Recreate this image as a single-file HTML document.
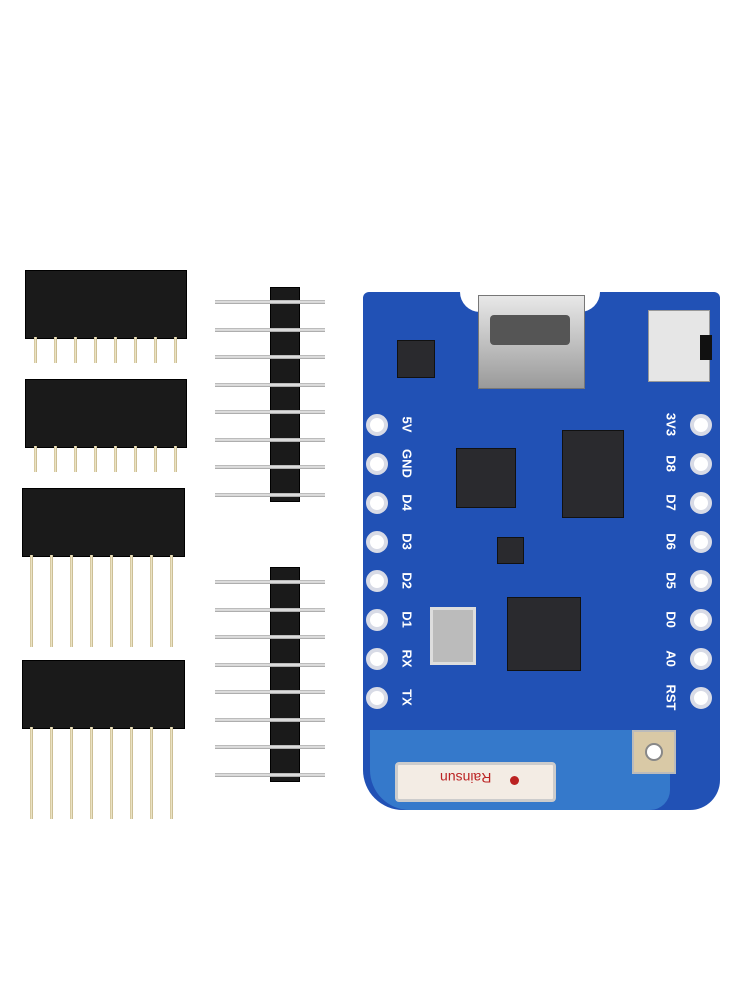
<!DOCTYPE html>
<html><head><meta charset="utf-8"><style>
body{margin:0;width:750px;height:1000px;background:#fff;position:relative;overflow:hidden;font-family:"Liberation Sans",sans-serif}
.a{position:absolute}
.blk{background:#1a1a1a;border:1px solid #000}
.pin{background:linear-gradient(90deg,#c9b98a,#f3ecd0,#b8a878);width:3px}
.hp{background:linear-gradient(180deg,#aaa,#eee,#999);height:4px}
.hole{width:14px;height:14px;border-radius:50%;background:#fff;border:4px solid #d8dbe6;box-sizing:content-box}
.lbl{color:#fff;font-size:13px;font-weight:bold;transform:rotate(90deg);transform-origin:center}
.chip{background:#2a2a2e;border:1px solid #111}
.smd{background:#333}
</style></head><body>
<!-- female headers -->
<div class="a blk" style="left:25px;top:270px;width:160px;height:67px"></div>
<div class="a blk" style="left:25px;top:379px;width:160px;height:67px"></div>
<div class="a blk" style="left:22px;top:488px;width:161px;height:67px"></div>
<div class="a blk" style="left:22px;top:660px;width:161px;height:67px"></div>
<div id="fp"></div>
<!-- male headers -->
<div class="a blk" style="left:270px;top:287px;width:28px;height:213px"></div>
<div class="a blk" style="left:270px;top:567px;width:28px;height:213px"></div>
<!-- board -->
<div class="a" style="left:363px;top:292px;width:357px;height:518px;background:#2151b5;border-radius:6px 6px 30px 40px"></div>
<div class="a" style="left:370px;top:730px;width:300px;height:80px;background:#3f8ad4;border-radius:0 0 20px 40px;opacity:.7"></div>
<div class="a" style="left:460px;top:292px;width:140px;height:20px;background:#fff;border-radius:0 0 20px 20px"></div>
<div class="a" style="left:478px;top:295px;width:105px;height:92px;background:linear-gradient(#e8e8e8,#9a9a9a);border:1px solid #777"></div>
<div class="a" style="left:490px;top:315px;width:80px;height:30px;background:#555;border-radius:4px"></div>
<div class="a" style="left:648px;top:310px;width:60px;height:70px;background:#e6e6e6;border:1px solid #999"></div>
<div class="a" style="left:700px;top:335px;width:12px;height:25px;background:#111"></div>
<div class="a chip" style="left:456px;top:448px;width:58px;height:58px"></div>
<div class="a chip" style="left:562px;top:430px;width:60px;height:86px"></div>
<div class="a chip" style="left:507px;top:597px;width:72px;height:72px"></div>
<div class="a" style="left:430px;top:607px;width:40px;height:52px;background:#bbb;border:3px solid #ddd"></div>
<div class="a chip" style="left:397px;top:340px;width:36px;height:36px"></div>
<div class="a chip" style="left:497px;top:537px;width:25px;height:25px"></div>
<div class="a" style="left:395px;top:762px;width:155px;height:34px;background:#f3ece4;border:3px solid #ccc;border-radius:4px"></div>
<div class="a" style="left:440px;top:770px;font-size:14px;color:#b22;transform:rotate(180deg)">Rainsun</div>
<div class="a" style="left:510px;top:776px;width:9px;height:9px;border-radius:50%;background:#b22"></div>
<div class="a" style="left:632px;top:730px;width:40px;height:40px;background:#d9c9a6;border:2px solid #bbb"></div>
<div class="a" style="left:645px;top:743px;width:14px;height:14px;border-radius:50%;background:#fff;border:2px solid #888"></div>
<div id="holes"></div>
<script>
var s='';
[337,446].forEach(function(y){for(var i=0;i<8;i++)s+='<div class="a pin" style="left:'+(34+i*20)+'px;top:'+y+'px;height:26px"></div>';});
[555,727].forEach(function(y){for(var i=0;i<8;i++)s+='<div class="a pin" style="left:'+(30+i*20)+'px;top:'+y+'px;height:92px"></div>';});
[300,580].forEach(function(y0){for(var i=0;i<8;i++)s+='<div class="a hp" style="left:215px;top:'+(y0+i*27.5)+'px;width:110px"></div>';});
var L=['5V','GND','D4','D3','D2','D1','RX','TX'],R=['3V3','D8','D7','D6','D5','D0','A0','RST'];
for(var i=0;i<8;i++){var y=414+i*39;
s+='<div class="a hole" style="left:366px;top:'+y+'px"></div><div class="a hole" style="left:690px;top:'+y+'px"></div>';
s+='<div class="a lbl" style="left:392px;top:'+(y+3)+'px;width:30px;text-align:center">'+L[i]+'</div>';
s+='<div class="a lbl" style="left:656px;top:'+(y+3)+'px;width:30px;text-align:center">'+R[i]+'</div>';}
document.getElementById('holes').innerHTML=s;
</script>
</body></html>
